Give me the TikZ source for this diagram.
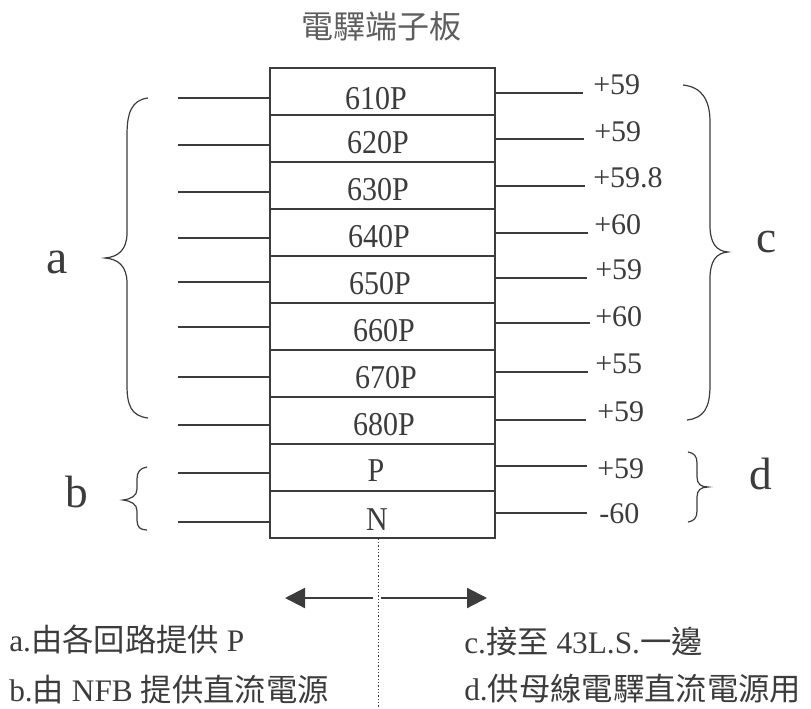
\documentclass[tikz,border=0pt]{standalone}
\usepackage{fontspec}
\setmainfont{Liberation Serif}
\newfontfamily\cjk{Noto Sans CJK TC}
\newfontfamily\rowfont[FakeStretch=0.9]{Liberation Serif}
\usetikzlibrary{arrows.meta}
\definecolor{ink}{HTML}{3C3C3C}
\definecolor{lightink}{HTML}{5E5E5E}
\tikzset{
  rowbox/.style={draw=ink, line width=1.1pt, minimum width=168.75pt, minimum height=35.25pt, inner sep=0pt},
  rowlabel/.style={text=ink, inner sep=0pt, font=\rowfont\fontsize{25}{28}\selectfont},
  vallabel/.style={text=ink, inner sep=0pt, anchor=west, font=\fontsize{22.5}{26}\selectfont},
  wire/.style={draw=ink, line width=1.1pt},
  bracepath/.style={draw=ink, line width=0.9pt},
  bigletter/.style={text=ink, inner sep=0pt, font=\fontsize{34}{38}\selectfont},
  note/.style={text=ink, inner sep=0pt, anchor=west, font=\fontsize{23.5}{27}\selectfont},
  title/.style={text=lightink, inner sep=0pt, font=\cjk\fontsize{24}{28}\selectfont},
  dirarrow/.style={draw=ink, line width=1.6pt, -{Triangle[length=15pt,width=15pt]}},
  dotline/.style={draw=ink, line width=0.6pt, dash pattern=on 1pt off 1.5pt}
}
\begin{document}
\begin{tikzpicture}[x=0.75pt,y=-0.75pt]
\useasboundingbox (0,0) rectangle (811,708);

% title
\node[title] (title) at (381,26) {電驛端子板};

% rows of the terminal board
\foreach \i/\yc in {1/91.5,2/138.5,3/185.5,4/232.5,5/279.5,6/326.5,7/373.5,8/420.5,9/467.5,10/514.5}{
  \node[rowbox] (r\i) at (382.5,\yc) {};
}
\foreach \i/\lx/\ly/\t in {1/376/99/610P,2/378/143/620P,3/378/190/630P,4/379/237/640P,5/380/284/650P,6/384/331/660P,7/386/378/670P,8/384/425/680P,9/376/471/P,10/377/520/N}{
  \node[rowlabel] (l\i) at (\lx,\ly) {\t};
}

% left wires
\foreach \i/\y in {1/98,2/145,3/192,4/238,5/282,6/327,7/377,8/425,9/473,10/522}{
  \coordinate (lw\i) at (178,\y);
  \draw[wire] (lw\i) -- (lw\i -| r\i.west);
}
% right wires
\foreach \i/\y/\xe in {1/93/583,2/139/584,3/186/585,4/233/588,5/278/587,6/323/590,7/372/588,8/420/586,9/466/587,10/513/587}{
  \coordinate (rw\i) at (\xe,\y);
  \draw[wire] (r\i.east |- rw\i) -- (rw\i);
}
% values
\foreach \i/\x/\y/\t in {1/593/85/+59,2/594/132/+59,3/593/178/+59.8,4/594/225/+60,5/595/270/+59,6/595/317/+60,7/595/364/+55,8/597/412/+59,9/597/469/+59,10/599/514/-60}{
  \node[vallabel] (v\i) at (\x,\y) {\t};
}

% braces
\draw[bracepath] (148,98) .. controls (131,100) and (127,114) .. (127,135) -- (127,233)
  .. controls (127,250) and (118,257) .. (105,258)
  .. controls (118,259) and (127,266) .. (127,283) -- (127,385)
  .. controls (127,405) and (131,416) .. (148,418);
\node[bigletter, font=\fontsize{36}{40}\selectfont] (la) at (57,262) {a};

\draw[bracepath] (147,467) .. controls (140,468) and (137,472) .. (137,479) -- (137,489)
  .. controls (137,496) and (131,499) .. (123,500)
  .. controls (131,501) and (137,504) .. (137,511) -- (137,520)
  .. controls (137,527) and (140,530) .. (147,530);
\node[bigletter] (lb) at (77,492) {b};

\draw[bracepath] (683,85) .. controls (702,87) and (710,100) .. (710,122) -- (710,225)
  .. controls (710,243) and (716,251) .. (728,252)
  .. controls (716,253) and (710,261) .. (710,279) -- (710,385)
  .. controls (710,408) and (704,418) .. (687,420);
\node[bigletter] (lc) at (767,242) {c};

\draw[bracepath] (688,452) .. controls (694,453) and (697,456) .. (697,463) -- (697,477)
  .. controls (697,484) and (701,487) .. (708,487)
  .. controls (701,487) and (697,490) .. (697,497) -- (697,511)
  .. controls (697,518) and (694,521) .. (688,522);
\node[bigletter] (ld) at (761,474) {d};

% dotted centre line and direction arrows
\coordinate (dbot) at (378,708);
\draw[dotline] (dbot |- r10.south) -- (dbot);
\coordinate (am1) at (373,598);
\coordinate (am2) at (381,598);
\coordinate (al) at (285,598);
\coordinate (ar) at (487,598);
\draw[dirarrow] (am1) -- (al);
\draw[dirarrow] (am2) -- (ar);

% notes
\node[note] (na) at (9,640) {a.{\cjk 由各回路提供} P};
\node[note] (nb) at (9,690) {b.{\cjk 由} NFB {\cjk 提供直流電源}};
\node[note] (nc) at (464,642) {c.{\cjk 接至} 43L.S.{\cjk 一邊}};
\node[note] (nd) at (464,689) {d.{\cjk 供母線電驛直流電源用}};
\end{tikzpicture}
\end{document}
